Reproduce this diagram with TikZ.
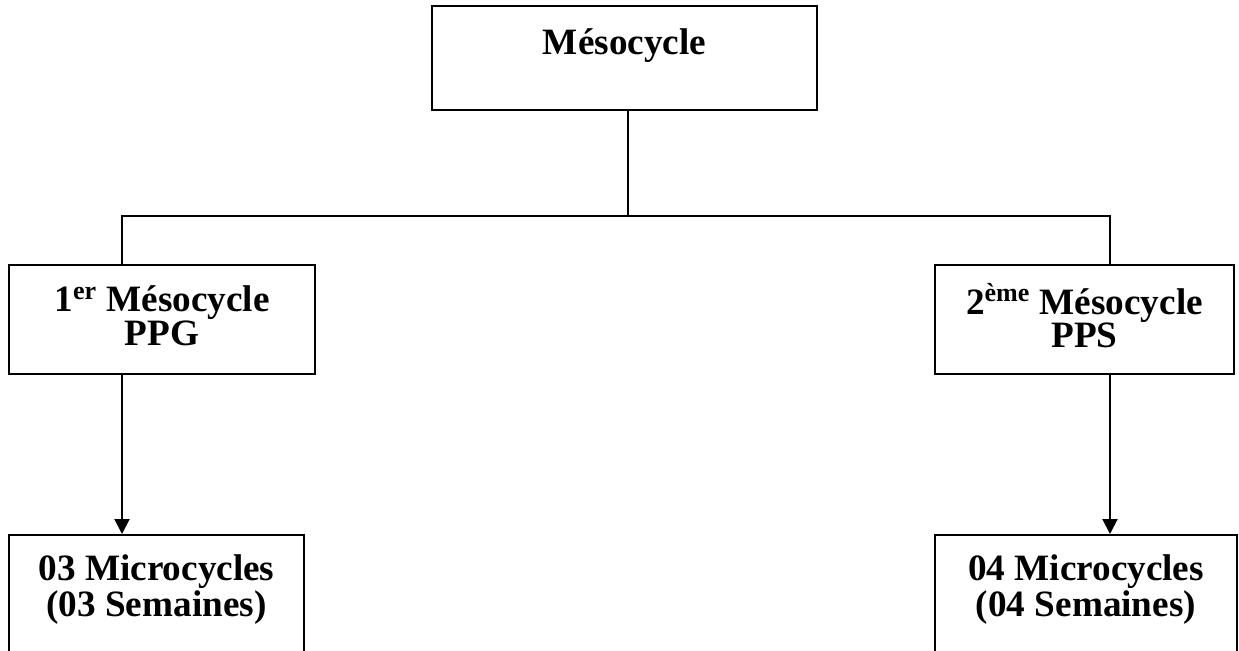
\documentclass[tikz,border=0pt]{standalone}
\usepackage{fontspec}
\setmainfont{Liberation Serif}
\usetikzlibrary{arrows.meta}

\begin{document}
\begin{tikzpicture}[x=0.5pt, y=-0.5pt,
        box/.style={draw, line width=1pt, align=center, inner sep=0pt,
            font=\fontsize{18.6}{16.75}\selectfont\bfseries},
        link/.style={line width=1pt},
        arr/.style={line width=1pt, -{Triangle[length=7.5pt, width=7.5pt]}}]

        \useasboundingbox (0,0) rectangle (1239,650);
        \clip (0,0) rectangle (1239,650);

        % boxes
        \node[box, minimum width=192.5pt, minimum height=52pt] (meso) at (624.5,58) {Mésocycle\\\mbox{}};
        \node[box, minimum width=153pt, minimum height=54.5pt, text depth=4pt] (ppg) at (162,319.5) {1\textsuperscript{er} Mésocycle\\PPG};
        \node[box, minimum width=149.5pt, minimum height=54.5pt, text depth=4pt] (pps) at (1084.5,319.5) {2\textsuperscript{ème} Mésocycle\\PPS};
        \node[box, minimum width=147.5pt, minimum height=82.5pt, text depth=32pt] (micl) at (156.5,617.5) {03 Microcycles\\(03 Semaines)};
        \node[box, minimum width=151pt, minimum height=82.5pt, text depth=32pt] (micr) at (1086,617.5) {04 Microcycles\\(04 Semaines)};

        % connectors
        \coordinate (jm) at (628,216);
        \coordinate (jl) at (122,216);
        \coordinate (jr) at (1110,216);
        \draw[link] (meso.south -| jm) -- (jm);
        \draw[link] (jl |- ppg.north) -- (jl) -- (jr) -- (jr |- pps.north);
        \draw[arr] (jl |- ppg.south) -- (jl |- micl.north);
        \draw[arr] (jr |- pps.south) -- (jr |- micr.north);

    \end{tikzpicture}
\end{document}
